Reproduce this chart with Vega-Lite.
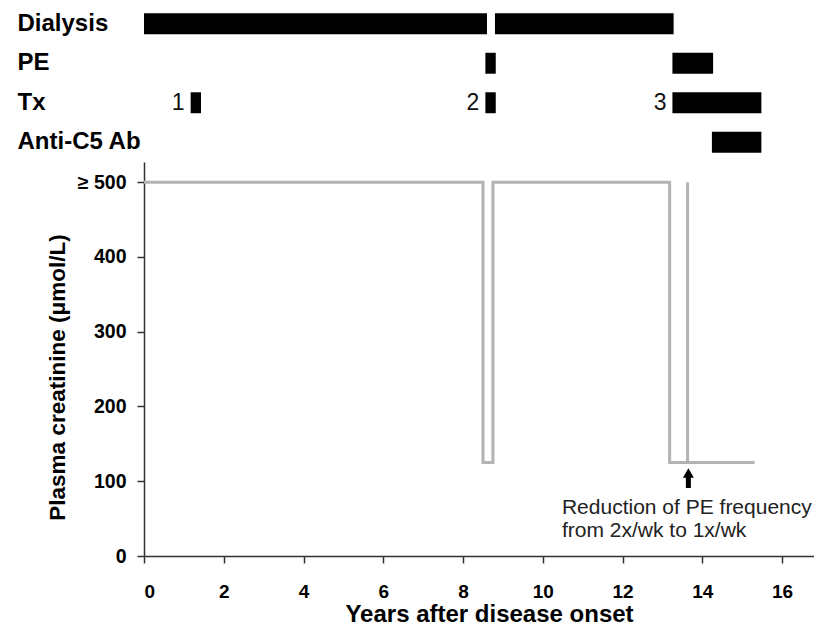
{
  "$schema": "https://vega.github.io/schema/vega-lite/v6.json",
  "padding": {"left": 17, "top": 4, "right": 0, "bottom": 0},
  "bounds": "flush",
  "spacing": 0,
  "config": {
    "view": {"stroke": null},
    "font": "Liberation Sans",
    "axis": {"grid": false, "labelColor": "#000", "titleColor": "#000", "domainColor": "#333", "tickColor": "#333"}
  },
  "datasets": {
    "treatments": [
      {"row": "Dialysis", "start": 0, "end": 8.6, "num": ""},
      {"row": "Dialysis", "start": 8.8, "end": 13.28, "num": ""},
      {"row": "PE", "start": 8.56, "end": 8.82, "num": ""},
      {"row": "PE", "start": 13.25, "end": 14.27, "num": ""},
      {"row": "Tx", "start": 1.17, "end": 1.43, "num": "1"},
      {"row": "Tx", "start": 8.56, "end": 8.82, "num": "2"},
      {"row": "Tx", "start": 13.25, "end": 15.48, "num": "3"},
      {"row": "Anti-C5 Ab", "start": 14.24, "end": 15.48, "num": ""}
    ],
    "creatinine": [
      {"series": "main", "order": 0, "year": 0, "value": 500},
      {"series": "main", "order": 1, "year": 8.5, "value": 500},
      {"series": "main", "order": 2, "year": 8.5, "value": 125},
      {"series": "main", "order": 3, "year": 8.75, "value": 125},
      {"series": "main", "order": 4, "year": 8.75, "value": 500},
      {"series": "main", "order": 5, "year": 13.18, "value": 500},
      {"series": "main", "order": 6, "year": 13.18, "value": 125},
      {"series": "main", "order": 7, "year": 15.31, "value": 125},
      {"series": "spike", "order": 0, "year": 13.63, "value": 125},
      {"series": "spike", "order": 1, "year": 13.63, "value": 500}
    ],
    "arrow": [
      {"year": 13.65, "low": 91, "high": 106, "tip": 111}
    ],
    "note": [
      {"year": 10.48, "value": 64, "text": "Reduction of PE frequency"},
      {"year": 10.48, "value": 34, "text": "from 2x/wk to 1x/wk"}
    ]
  },
  "vconcat": [
    {
      "width": 670,
      "height": 158,
      "data": {"name": "treatments"},
      "layer": [
        {
          "mark": {"type": "bar", "color": "#000"},
          "encoding": {
            "x": {"field": "start", "type": "quantitative", "scale": {"domain": [0, 16.8], "nice": false, "zero": false}, "axis": null},
            "x2": {"field": "end"},
            "y": {
              "field": "row", "type": "nominal",
              "sort": ["Dialysis", "PE", "Tx", "Anti-C5 Ab"],
              "scale": {"paddingInner": 0.47, "paddingOuter": 0.235},
              "axis": {
                "title": null, "domain": false, "ticks": false, "tickSize": 0,
                "labelAlign": "left", "labelPadding": 127,
                "labelFont": "Liberation Sans", "labelFontWeight": "bold", "labelFontSize": 24
              }
            }
          }
        },
        {
          "mark": {"type": "text", "align": "right", "baseline": "middle", "dx": -6, "fontSize": 23, "color": "#111"},
          "encoding": {
            "x": {"field": "start", "type": "quantitative"},
            "y": {"field": "row", "type": "nominal", "sort": ["Dialysis", "PE", "Tx", "Anti-C5 Ab"]},
            "text": {"field": "num"}
          }
        }
      ]
    },
    {
      "width": 670,
      "height": 394,
      "layer": [
        {
          "data": {"name": "creatinine"},
          "mark": {"type": "line", "color": "#b3b3b3", "strokeWidth": 3, "strokeJoin": "miter", "strokeCap": "butt"},
          "encoding": {
            "x": {
              "field": "year", "type": "quantitative",
              "scale": {"domain": [0, 16.8], "nice": false, "zero": false},
              "axis": {
                "title": "Years after disease onset", "values": [0, 2, 4, 6, 8, 10, 12, 14, 16],
                "tickSize": 7, "tickWidth": 1.5, "domainWidth": 1.5, "labelPadding": 19,
                "labelFontWeight": "bold", "labelFontSize": 19,
                "titleFontWeight": "bold", "titleFontSize": 24,
                "titleX": 345, "titleY": 65, "titleAlign": "center", "titleBaseline": "alphabetic"
              }
            },
            "y": {
              "field": "value", "type": "quantitative",
              "scale": {"domain": [0, 527], "nice": false},
              "axis": {
                "title": "Plasma creatinine (μmol/L)", "values": [0, 100, 200, 300, 400, 500],
                "labelExpr": "datum.value == 500 ? '≥ 500' : datum.label",
                "tickSize": 7, "tickWidth": 1.5, "domainWidth": 1.5, "labelPadding": 11,
                "labelFontWeight": "bold", "labelFontSize": 19.5,
                "titleFontWeight": "bold", "titleFontSize": 22.5,
                "titleX": -80, "titleY": 215, "titleAlign": "center", "titleBaseline": "alphabetic"
              }
            },
            "detail": {"field": "series"},
            "order": {"field": "order"}
          }
        },
        {
          "data": {"name": "arrow"},
          "mark": {"type": "rule", "color": "#000", "strokeWidth": 5},
          "encoding": {
            "x": {"field": "year", "type": "quantitative"},
            "y": {"field": "low", "type": "quantitative"},
            "y2": {"field": "high"}
          }
        },
        {
          "data": {"name": "arrow"},
          "mark": {"type": "point", "shape": "triangle-up", "filled": true, "color": "#000", "size": 120, "opacity": 1},
          "encoding": {
            "x": {"field": "year", "type": "quantitative"},
            "y": {"field": "tip", "type": "quantitative"}
          }
        },
        {
          "data": {"name": "note"},
          "mark": {"type": "text", "align": "left", "baseline": "middle", "fontSize": 21, "color": "#222"},
          "encoding": {
            "x": {"field": "year", "type": "quantitative"},
            "y": {"field": "value", "type": "quantitative"},
            "text": {"field": "text"}
          }
        }
      ]
    }
  ]
}
